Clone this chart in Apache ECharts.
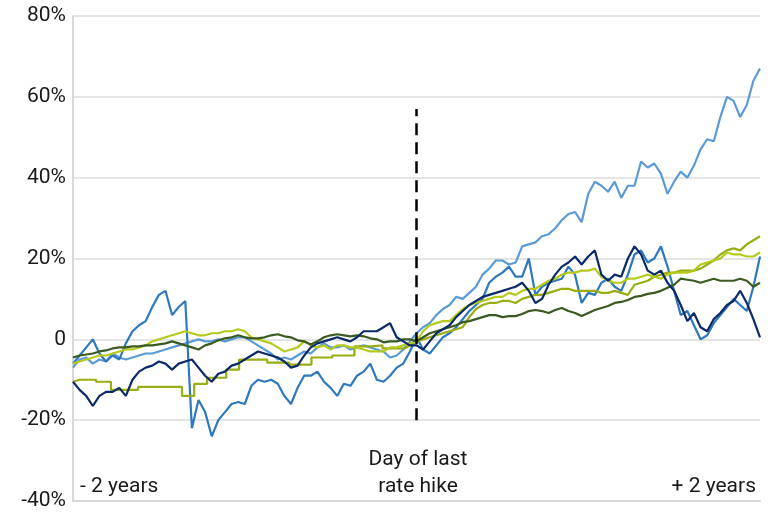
<!DOCTYPE html>
<html>
<head>
<meta charset="utf-8">
<script src="https://cdn.jsdelivr.net/npm/echarts@6/dist/echarts.min.js"></script>
<style>
html,body{margin:0;padding:0;background:#fff;}
#chart{width:778px;height:518px;}
</style>
</head>
<body>
<div id="chart"></div>
<script>
// x: weeks relative to the day of the last rate hike (-2 years .. +2 years)
const weeks = Array.from({length: 105}, (_, i) => -104 + 2 * i);
const xTickValues = [-104, 0, 104];
const xTickLabels = ['- 2 years', 'Day of last\nrate hike', '+ 2 years'];
const yTicks = [-40, -20, 0, 20, 40, 60, 80];

// Light blue
const seriesA = [
  -7, -5, -4.5, -6, -5, -5.5, -3.5, -4.5, -5, -4.5, -4, -3.5, -3.5, -3, -2.5, -2, -1.5, -1, -0.5, 0,
  -0.5, -0.5, 0, -0.5, 0, 0.5, 0.5, -0.5, -1.5, -2.5, -3.5, -5, -4.5, -5, -4, -3, -3.5, -2, -1, -2,
  -2, -1.5, -2.5, -2, -1.5, -2, -2.5, -3, -4.5, -4, -2.5, -0.5,
  1.5, 3, 4, 6, 7.5, 8.5, 10.5, 10, 11.5, 13, 16, 17.5, 19.5, 19.5, 18.5, 19, 23, 23.5, 24, 25.5,
  26, 27.5, 29.5, 31, 31.5, 29, 36, 39, 38, 36.5, 39, 35, 38, 38, 44, 42.5, 43.5, 41, 36, 39,
  41.5, 40, 43, 47, 49.5, 49, 55, 60, 59, 55, 58, 64, 67
];
// Medium blue
const seriesB = [
  -6, -4, -2, 0, -3.5, -5.5, -4, -5, -1, 2, 3.5, 4.5, 8, 11, 12, 6, 8, 9.5, -22, -15,
  -18, -24, -20, -18, -16, -15.5, -16, -11.5, -10, -10.5, -10, -11, -14, -16, -12, -9, -9, -8, -10.5, -12,
  -14, -11, -11.5, -9, -8, -6, -10, -10.5, -9, -7, -6, -3,
  0.5, -2.5, -3.5, -1.5, 0.5, 1.5, 3, 5, 7, 8.5, 10, 14, 15.5, 16.5, 18, 15.5, 15.5, 20, 11, 13,
  14, 14.5, 15, 18, 16, 9, 11.5, 11, 14, 15, 13, 12, 16, 21, 22, 19, 20, 23, 18, 12,
  6, 7, 3.5, 0, 1, 4, 6, 8, 10, 8.5, 7, 13, 20.5
];
// Navy
const seriesC = [
  -10.5, -12.5, -14, -16.5, -14, -13, -13, -12, -14, -10, -8, -7, -6.5, -5.5, -6, -7.5, -6, -5.5, -5, -7,
  -9, -10.5, -8.5, -8, -6.5, -6, -5, -4, -3, -3.5, -4, -4.5, -5.5, -7, -6.5, -4, -2, -1, -0.5, 0,
  0.5, 0, -0.5, 0.5, 2, 2, 2, 3, 4, 0.5, -0.5, -1.5,
  -1.5, -2.5, -0.5, 1.5, 2.5, 3.5, 5.5, 7, 8.5, 9.5, 10.5, 11, 11.5, 12, 12.5, 13, 14, 12, 9, 10,
  13.5, 16, 18, 19, 20.5, 18.5, 20.5, 22, 16, 14.5, 16, 15.5, 20, 23, 21, 17, 16, 17, 14, 12,
  8.5, 4.5, 6.5, 3, 2, 5, 6.5, 8.5, 9.5, 12, 9, 5, 0.5
];
// Bright yellow-green
const seriesD = [
  -6, -5.5, -5, -4.5, -4, -4, -3.5, -3, -2.5, -2.5, -2, -1.5, -0.5, 0, 0.5, 1, 1.5, 2, 1.5, 1,
  1, 1.5, 1.5, 2, 2, 2.5, 2, 0.5, 0, -0.5, -1, -2, -3, -2.5, -2, -0.5, -1.5, -2, -1.5, -2.5,
  -1.5, -1.5, -2, -2, -2.5, -3, -3, -3, -2, -2, -1.5, -1,
  -0.5, 2, 3.5, 4, 4.5, 4.5, 6, 7.5, 8.5, 9, 9.5, 10, 10.5, 10.5, 11.5, 11, 12, 12.5, 12.5, 13.5,
  14.5, 15, 16, 16.5, 16.5, 17, 17, 17.5, 15.5, 14.5, 14, 14, 15, 15, 15.5, 16, 15.5, 15, 16, 16.5,
  16.5, 16.5, 17, 18.5, 19, 19.5, 20, 21.5, 21, 21, 20.5, 20.5, 21.5
];
// Olive (stepwise before the hike)
const seriesEWeeks = [
  -104, -102, -97, -97, -92.5, -92.5, -84.3, -84.3, -71, -71, -67.3, -67.3, -63.4, -63.4, -57.6, -57.6,
  -53.7, -53.7, -45.2, -45.2, -38.5, -38.5, -31.8, -31.8, -25.5, -25.5, -18.8, -18.8, -13.6, -13.6,
  -10.3, -10.3, -3.6, -2, 0,
  2, 4, 6, 8, 10, 12, 14, 16, 18, 20, 22, 24, 26, 28, 30, 32, 34, 36, 38, 40, 42, 44, 46, 48, 50,
  52, 54, 56, 58, 60, 62, 64, 66, 68, 70, 72, 74, 76, 78, 80, 82, 84, 86, 88, 90, 92, 94, 96, 98,
  100, 102, 104
];
const seriesE = [
  -10.5, -10, -10, -10.5, -10.5, -12.5, -12.5, -11.75, -11.75, -14, -14, -11, -11, -9.5, -9.5, -7.5,
  -7.5, -5, -5, -5.75, -5.75, -6.25, -6.25, -4.5, -4.5, -4, -4, -1.75, -1.75, -1.5,
  -1.5, -2.25, -2.25, -1.5, -0.5,
  0, 0.5, 1, 1.5, 2, 2.5, 3, 5.5, 7.5, 8.5, 9, 9, 9.5, 9.5, 9, 10, 10.5, 11, 11, 11.5,
  12, 12.5, 12.5, 12, 12, 12, 12, 11.5, 11.5, 12, 11.5, 11, 13.5, 14, 14.5, 15.5, 16, 16.5, 16.5,
  17, 17, 17, 17.5, 18.5, 19.5, 21, 22, 22.5, 22, 23.5, 24.5, 25.5
];
// Dark green
const seriesF = [
  -4.5, -4, -3.75, -3.5, -3, -2.75, -2.25, -2, -2, -1.75, -1.75, -1.5, -1.5, -1.25, -1, -0.5, -1, -1.5, -2, -2.5,
  -1.5, -1, -0.25, 0.25, 0.5, 1, 0.5, 0.25, 0.25, 0.5, 1, 1.25, 0.75, 0.5, -0.25, -0.5, -1.25, -0.5, 0.5, 1,
  1.25, 1, 0.75, 1, 0.75, 0.25, 0, -0.75, -0.5, -0.5, 0, 0,
  -0.5, 0.5, 1.5, 2, 2.5, 3, 3.5, 4.25, 4.5, 5, 5.5, 6, 6, 5.5, 5.75, 5.75, 6.25, 7, 7.25, 7,
  6.5, 7.25, 7.75, 7, 6.5, 5.75, 6.5, 7.25, 7.75, 8.25, 9, 9.25, 9.75, 10.5, 10.75, 11.25, 11.5, 12, 12.75, 13.5,
  15, 14.75, 14.5, 14, 14.5, 15, 14.5, 14.5, 14.5, 15, 14.5, 13, 14
];
// dashed marker line at the day of the last hike
const hikeLine = {x: 0, from: -20, to: 57};

const zip = (xs, ys) => xs.map((x, i) => [x, ys[i]]);
const font = 'Roboto, "Noto Sans", sans-serif';

function lineSeries(name, xs, ys, color, extra) {
  return Object.assign({
    name: name,
    type: 'line',
    data: zip(xs, ys),
    showSymbol: false,
    symbol: 'none',
    smooth: false,
    lineStyle: {color: color, width: 2.2},
    itemStyle: {color: color},
    emphasis: {disabled: true}
  }, extra || {});
}

const chart = echarts.init(document.getElementById('chart'), null, {renderer: 'canvas'});
chart.setOption({
  animation: false,
  backgroundColor: '#ffffff',
  grid: {left: 73, right: 18, top: 16, bottom: 17, containLabel: false},
  xAxis: {
    type: 'value',
    min: xTickValues[0],
    max: xTickValues[2],
    interval: 104,
    axisLine: {show: true, onZero: false, lineStyle: {color: '#d9d9d9', width: 2}},
    axisTick: {show: false},
    splitLine: {show: false},
    axisLabel: {
      inside: true,
      showMinLabel: true,
      showMaxLabel: true,
      alignMinLabel: 'left',
      alignMaxLabel: 'right',
      margin: 1,
      padding: [0, 4, 0, 7],
      fontFamily: font,
      fontSize: 21,
      lineHeight: 27,
      color: '#1a1a1a',
      formatter: function (v) {
        const i = xTickValues.indexOf(v);
        return i >= 0 ? xTickLabels[i] : '';
      }
    }
  },
  yAxis: {
    type: 'value',
    min: yTicks[0],
    max: yTicks[yTicks.length - 1],
    interval: 20,
    axisLine: {show: true, onZero: false, lineStyle: {color: '#d9d9d9', width: 2}},
    axisTick: {show: false},
    splitLine: {show: true, lineStyle: {color: '#dcdcdc', width: 1.5}},
    axisLabel: {
      margin: 7,
      fontFamily: font,
      fontSize: 21,
      color: '#1a1a1a',
      formatter: function (v) { return v === 0 ? '0' : v + '%'; }
    }
  },
  series: [
    lineSeries('A', weeks, seriesA, '#5b9bd5'),
    lineSeries('B', weeks, seriesB, '#2e78bd'),
    lineSeries('E', seriesEWeeks, seriesE, '#9aae14'),
    lineSeries('D', weeks, seriesD, '#b6ca1e'),
    lineSeries('F', weeks, seriesF, '#3b5a22'),
    lineSeries('C', weeks, seriesC, '#0b2a68', {
      markLine: {
        silent: true,
        symbol: ['none', 'none'],
        label: {show: false},
        lineStyle: {color: '#000000', width: 2.5, type: [12, 7]},
        data: [[{coord: [hikeLine.x, hikeLine.from]}, {coord: [hikeLine.x, hikeLine.to]}]],
        z: 10
      }
    })
  ]
});
</script>
</body>
</html>
